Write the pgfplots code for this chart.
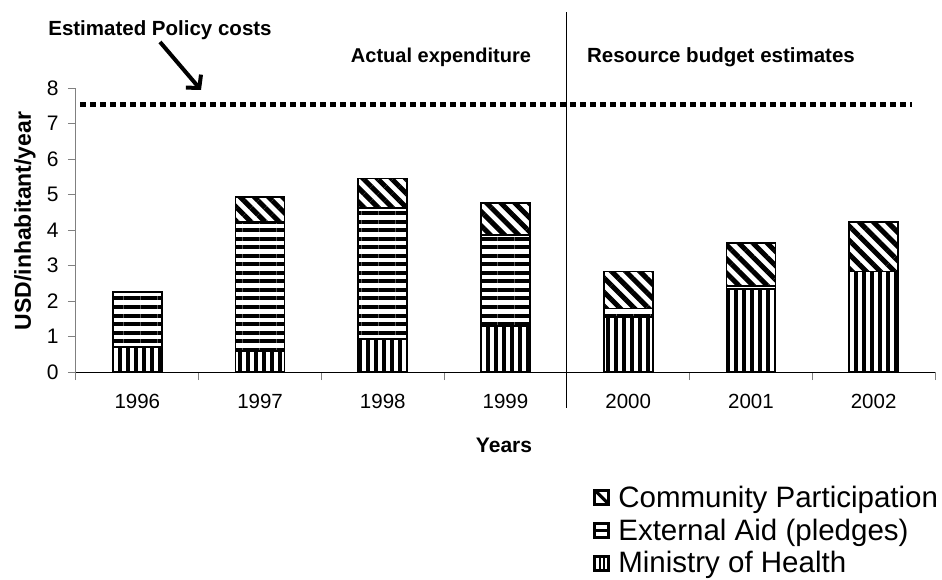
\documentclass[border=0pt]{standalone}
\usepackage{pgfplots}
\pgfplotsset{compat=1.18}
\usepackage{fontspec}
\setmainfont{Liberation Sans}
\usetikzlibrary{patterns.meta, arrows.meta}

\tikzset{
  patV/.style={pattern={Lines[angle=90,distance=8pt,line width=4pt]}},
  patH/.style={pattern={Lines[angle=0,distance=8.5pt,line width=4pt]}},
  patD/.style={pattern={Lines[angle=-45,distance=10pt,line width=5pt]}},
}

\begin{document}
\begin{tikzpicture}
\path[use as bounding box] (0pt,0pt) rectangle (942pt,579pt);
\begin{axis}[
  at={(76pt,207pt)}, anchor=south west,
  scale only axis, width=859pt, height=284pt,
  xmin=-0.5, xmax=6.5, ymin=0, ymax=8,
  ybar stacked, bar width=49pt,
  axis x line*=bottom, axis y line*=left,
  x axis line style={black, line width=1pt, -},
  y axis line style={gray, line width=1pt, -},
  xtick={0,...,6},
  xticklabels={1996,1997,1998,1999,2000,2001,2002},
  minor xtick={-0.5,0.5,...,6.5},
  ytick={0,...,8},
  tick align=outside,
  major tick length=8pt, minor tick length=8pt,
  major x tick style={draw=none},
  minor x tick style={gray, line width=1pt},
  y tick style={gray, line width=1pt},
  /pgf/number format/assume math mode=true,
  xticklabel style={font=\fontsize{20.5}{24}\selectfont, yshift=-11pt},
  yticklabel style={font=\fontsize{21}{24}\selectfont, xshift=-6pt},
  clip=false,
  legend cell align=left,
  legend style={at={(0.602,-0.393)}, anchor=north west, draw=none,
    font=\fontsize{29.5}{33}\selectfont, inner sep=0pt, row sep=6pt,
    /tikz/every odd column/.append style={column sep=6pt}},
]
\addplot[draw=black, line width=1.8pt, patV, forget plot]
  coordinates {(0,0.71) (1,0.59) (2,0.92) (3,1.30) (4,1.56) (5,2.33) (6,2.83)};
\addplot[draw=black, line width=1.8pt, patH, forget plot]
  coordinates {(0,1.54) (1,3.64) (2,3.71) (3,2.56) (4,0.23) (5,0.10) (6,0)};
\addplot[draw=black, line width=1.8pt, patD, forget plot]
  coordinates {(0,0) (1,0.71) (2,0.82) (3,0.89) (4,1.04) (5,1.21) (6,1.40)};
\addlegendimage{legend image code/.code={
    \path[fill=white, draw=none] (0pt,-8.5pt) rectangle (17pt,8.5pt);
    \path[draw=black, fill=none, line width=3pt] (1.5pt,-7pt) rectangle (15.5pt,7pt);
    \path[draw=black, fill=none, line width=3.2pt] (2pt,6.5pt) -- (15pt,-6.5pt);}}
\addlegendentry{Community Participation}
\addlegendimage{legend image code/.code={
    \path[fill=black, draw=none] (0pt,-8.5pt) rectangle (17pt,8.5pt);
    \path[fill=white, draw=none] (3pt,1.5pt) rectangle (14pt,5.5pt);
    \path[fill=white, draw=none] (3pt,-5.5pt) rectangle (14pt,-1.5pt);}}
\addlegendentry{External Aid (pledges)}
\addlegendimage{legend image code/.code={
    \path[fill=black, draw=none] (0pt,-8.5pt) rectangle (17pt,8.5pt);
    \path[fill=white, draw=none] (3pt,-5.5pt) rectangle (5.5pt,5.5pt);
    \path[fill=white, draw=none] (7.75pt,-5.5pt) rectangle (9.25pt,5.5pt);
    \path[fill=white, draw=none] (11.5pt,-5.5pt) rectangle (14pt,5.5pt);}}
\addlegendentry{Ministry of Health}
\end{axis}
\begin{axis}[
  at={(76pt,207pt)}, anchor=south west,
  scale only axis, width=859pt, height=284pt,
  xmin=-0.5, xmax=6.5, ymin=0, ymax=8,
  hide axis, clip=false,
]
\addplot[black, line width=5pt, dash pattern=on 5.5pt off 4.5pt]
  coordinates {(-0.467,7.53) (6.31,7.53)};
\addplot[black, line width=1.2pt]
  coordinates {(3.5,-1.0) (3.5,10.14)};
\end{axis}
\node[font=\bfseries\fontsize{20.5}{24}\selectfont] at (160pt,549pt) {Estimated Policy costs};
\draw[black, line width=4pt, -{Straight Barb[length=9pt,width=20pt]}] (160pt,537pt) -- (201pt,489pt);
\node[font=\bfseries\fontsize{20}{24}\selectfont] at (441pt,522pt) {Actual expenditure};
\node[font=\bfseries\fontsize{20.5}{24}\selectfont] at (721pt,522pt) {Resource budget estimates};
\node[font=\bfseries\fontsize{21}{24}\selectfont] at (504pt,134pt) {Years};
\node[font=\bfseries\fontsize{23}{26}\selectfont, rotate=90] at (25pt,358pt) {USD/inhabitant/year};
\end{tikzpicture}
\end{document}
